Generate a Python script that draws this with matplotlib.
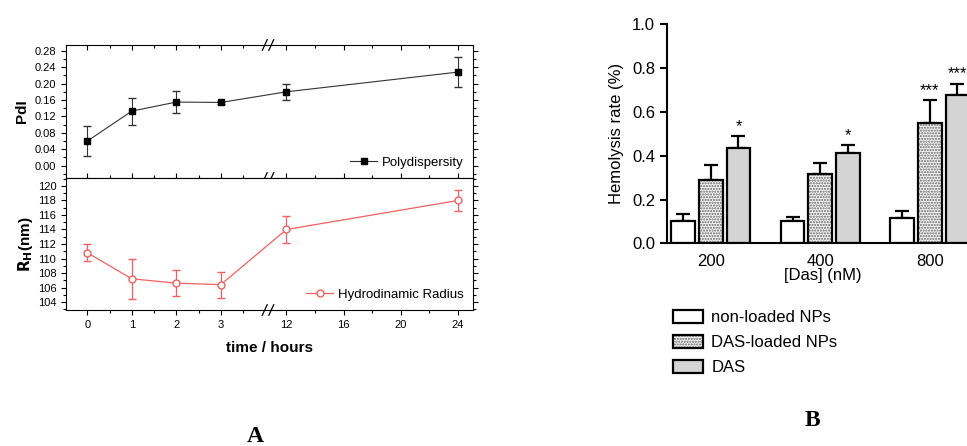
import numpy as np
import matplotlib
matplotlib.use('Agg')
import matplotlib.pyplot as plt
from matplotlib.patches import Patch
from matplotlib.legend_handler import HandlerTuple
from matplotlib.ticker import FixedLocator, MultipleLocator, FormatStrFormatter

plt.rcParams['font.family'] = ['Liberation Sans', 'DejaVu Sans']

# ---------------------------------------------------------------- #
# 数据 A
# ---------------------------------------------------------------- #
hours = [0, 1, 2, 3, 12, 24]
pdi = [0.060, 0.133, 0.155, 0.154, 0.180, 0.228]
pdi_err = [0.036, 0.033, 0.026, 0.003, 0.020, 0.037]
rh = [110.8, 107.2, 106.6, 106.4, 114.0, 118.0]
rh_err = [1.2, 2.8, 1.8, 1.8, 1.8, 1.5]
hour_ticks = [0, 1, 2, 3, 12, 16, 20, 24]
hour_minor = [0.5, 1.5, 2.5, 6, 14, 18, 22]

# ---------------------------------------------------------------- #
# 数据 B
# ---------------------------------------------------------------- #
conc = ['200', '400', '800']
series = ['non-loaded NPs', 'DAS-loaded NPs', 'DAS']
hemo = [[0.102, 0.100, 0.114],
        [0.289, 0.316, 0.551],
        [0.437, 0.411, 0.677]]
hemo_err = [[0.030, 0.020, 0.032],
            [0.068, 0.051, 0.103],
            [0.051, 0.036, 0.052]]
stars = [['', '', ''], ['', '', '***'], ['*', '*', '***']]

# 断轴: 0-3 h 宽, 3-12 h 压缩, 12-24 h 窄
GAP = 0.164
RIGHT = 0.3213


def fwd(x):
    x = np.asarray(x, dtype=float)
    return np.where(x <= 3, x,
                    np.where(x <= 12, 3 + (x - 3) * GAP, 3 + 9 * GAP + (x - 12) * RIGHT))


def inv(u):
    u = np.asarray(u, dtype=float)
    return np.where(u <= 3, u,
                    np.where(u <= 3 + 9 * GAP, 3 + (u - 3) / GAP, 12 + (u - 3 - 9 * GAP) / RIGHT))


fig = plt.figure(figsize=(9.67, 4.46), dpi=100)
W, H = 967, 446


def px_axes(x0, y0, x1, y1):
    return fig.add_axes([x0 / W, 1 - y1 / H, (x1 - x0) / W, (y1 - y0) / H])


ax_top = px_axes(66, 45, 473, 178)
ax_bot = px_axes(66, 178, 473, 310)

for ax in (ax_top, ax_bot):
    ax.set_xscale('function', functions=(fwd, inv))
    ax.set_xlim(-0.48, 25.05)
    ax.xaxis.set_major_locator(FixedLocator(hour_ticks))
    ax.xaxis.set_minor_locator(FixedLocator(hour_minor))
    ax.tick_params(axis='both', which='both', labelsize=8, width=0.8)
    ax.tick_params(which='major', length=3.5)
    ax.tick_params(which='minor', length=2)
    for s in ax.spines.values():
        s.set_linewidth(0.8)

eb = ax_top.errorbar(hours, pdi, yerr=pdi_err, color='#333333', lw=0.8, marker='s', ms=5,
                     mfc='black', mec='black', ecolor='#333333', elinewidth=0.8, capsize=3)
ax_top.set_ylim(-0.03, 0.294)
ax_top.yaxis.set_major_locator(MultipleLocator(0.04))
ax_top.yaxis.set_minor_locator(MultipleLocator(0.02))
ax_top.yaxis.set_major_formatter(FormatStrFormatter('%.2f'))
ax_top.tick_params(axis='x', which='both', direction='in', top=True, bottom=True, labelbottom=False)
ax_top.tick_params(axis='y', which='both', direction='out', right=True)
ax_top.set_ylabel('PdI', fontsize=11, fontweight='bold', labelpad=4)
ax_top.legend([eb[0]], ['Polydispersity'], loc='lower right', frameon=False, fontsize=9.5,
              handlelength=2.0, handletextpad=0.4, borderaxespad=0.3)

red = '#f06060'
eb = ax_bot.errorbar(hours, rh, yerr=rh_err, color=red, lw=0.9, marker='o', ms=5,
                     mfc='white', mec=red, ecolor=red, elinewidth=0.9, capsize=3)
ax_bot.set_ylim(102.9, 121.1)
ax_bot.yaxis.set_major_locator(MultipleLocator(2))
ax_bot.yaxis.set_minor_locator(MultipleLocator(1))
ax_bot.tick_params(axis='x', which='both', direction='out', top=False)
ax_bot.tick_params(axis='y', which='both', direction='out', right=True)
ax_bot.set_ylabel(r'$\mathbf{R_H}$(nm)', fontsize=11, fontweight='bold', labelpad=2)
ax_bot.set_xlabel('time / hours', fontsize=11, fontweight='bold', labelpad=8)
ax_bot.legend([eb[0]], ['Hydrodinamic Radius'], loc='lower right', frameon=False, fontsize=9.5,
              handlelength=2.0, handletextpad=0.4, borderaxespad=0.3)
fig.align_ylabels([ax_top, ax_bot])

# 断轴标记 //
bx = (268 - 66) / 407
for ax, ys in ((ax_top, (0, 1)), (ax_bot, (0,))):
    for yy in ys:
        for dx in (-0.008, 0.008):
            ax.plot([bx + dx - 0.006, bx + dx + 0.006], [yy - 0.04, yy + 0.04],
                    transform=ax.transAxes, color='black', lw=0.9, clip_on=False)

fig.text(255 / W, 1 - 437 / H, 'A', family='Liberation Serif', fontweight='bold',
         fontsize=17, ha='center', va='center')

# ---------------------------------------------------------------- #
# B: 溶血率柱状图
# ---------------------------------------------------------------- #
axb = px_axes(667, 24.3, 979, 243.3)
x = np.arange(len(conc))
bw = 0.215
step = 0.253
dots = '#666666'
handles = []
for i, name in enumerate(series):
    pos = x + (i - 1) * step
    axb.errorbar(pos, hemo[i], yerr=[np.zeros(3), hemo_err[i]], fmt='none',
                 ecolor='black', elinewidth=1.6, capsize=5, capthick=1.6, zorder=1)
    if i == 0:
        axb.bar(pos, hemo[i], bw, color='white', edgecolor='black', lw=1.6, zorder=2)
        h = Patch(facecolor='white', edgecolor='black', lw=1.6)
    elif i == 1:
        axb.bar(pos, hemo[i], bw, color='#f2f2f2', edgecolor=dots, hatch='......',
                lw=0, zorder=2)
        axb.bar(pos, hemo[i], bw, fill=False, edgecolor='black', lw=1.6, zorder=3)
        h = (Patch(facecolor='#f2f2f2', edgecolor=dots, hatch='......', lw=0),
             Patch(fill=False, edgecolor='black', lw=1.6))
    else:
        axb.bar(pos, hemo[i], bw, color='#d4d4d4', edgecolor='black', lw=1.6, zorder=2)
        h = Patch(facecolor='#d4d4d4', edgecolor='black', lw=1.6)
    handles.append(h)
    for j in range(3):
        if stars[i][j]:
            axb.text(pos[j], hemo[i][j] + hemo_err[i][j] + 0.01, stars[i][j],
                     ha='center', va='bottom', fontsize=12)

axb.set_xlim(-0.40, 2.45)
axb.set_ylim(0, 1.0)
axb.set_xticks(x)
axb.set_xticklabels(conc)
axb.yaxis.set_major_locator(MultipleLocator(0.2))
axb.yaxis.set_major_formatter(FormatStrFormatter('%.1f'))
axb.tick_params(axis='both', labelsize=12, width=1.5, length=5)
axb.tick_params(axis='x', length=0, pad=8)
for s in ('top', 'right'):
    axb.spines[s].set_visible(False)
for s in ('left', 'bottom'):
    axb.spines[s].set_linewidth(1.5)
axb.set_ylabel('Hemolysis rate (%)', fontsize=12, labelpad=6)
axb.set_xlabel('[Das] (nM)', fontsize=12, labelpad=-1)

fig.legend(handles, series, handler_map={tuple: HandlerTuple(ndivide=1, pad=0)},
           loc='upper left', bbox_to_anchor=(658 / W, 1 - 295 / H), frameon=False,
           fontsize=12, handlelength=1.8, handleheight=0.8, handletextpad=0.5,
           labelspacing=0.6)

fig.text(812 / W, 1 - 421 / H, 'B', family='Liberation Serif', fontweight='bold',
         fontsize=17, ha='center', va='center')

fig.savefig('out.png', dpi=100)
